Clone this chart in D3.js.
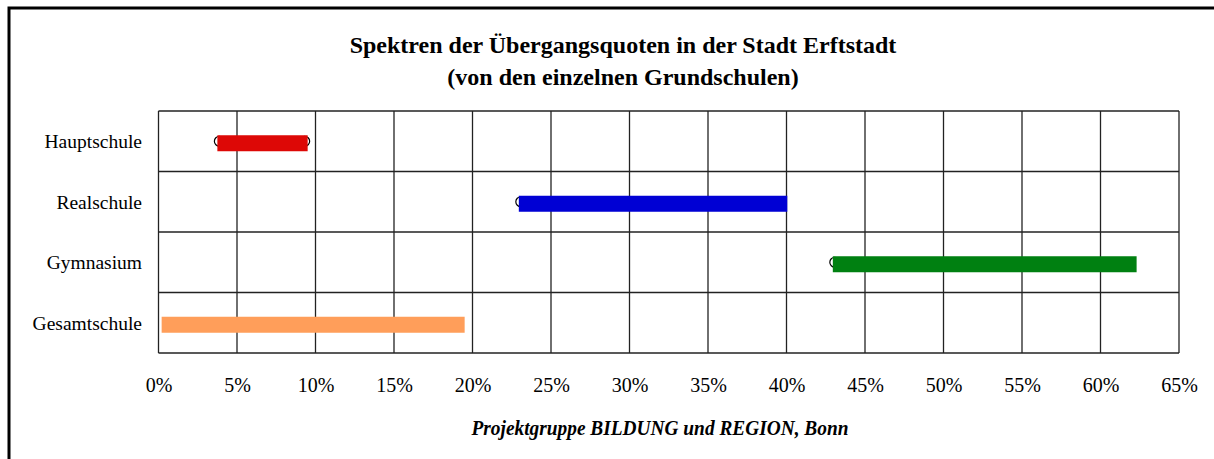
<html>
<head>
  <meta charset="UTF-8">
  <title>Spektren der Übergangsquoten</title>
  <script src="https://d3js.org/d3.v7.min.js"></script>
  <style>
    body { margin: 0; background: #fff; }
    text { font-family: "Liberation Serif", "Times New Roman", serif; fill: #000; }
  </style>
</head>
<body>
  <svg id="chart" width="1214" height="459"></svg>
  <script>
    const schools = ["Hauptschule", "Realschule", "Gymnasium", "Gesamtschule"];
    const minQuote = [3.75, 22.95, 42.95, 0.2];
    const maxQuote = [9.5, 40.05, 62.3, 19.5];
    const colors = ["#dd0806", "#0000d4", "#008011", "#ff9e5a"];
    // which end markers peek out from under the bar
    const minMarker = [true, true, true, false];
    const maxMarker = [true, false, false, false];
    const ticks = [0, 5, 10, 15, 20, 25, 30, 35, 40, 45, 50, 55, 60, 65];

    const svg = d3.select("#chart");

    // outer frame
    svg.append("rect")
        .attr("x", 9).attr("y", 8)
        .attr("width", 1300).attr("height", 500)
        .attr("fill", "none").attr("stroke", "#000").attr("stroke-width", 3);

    const plotLeft = 158.5, plotRight = 1179, plotTop = 111, plotBottom = 353;

    const x = d3.scaleLinear([0, 65], [plotLeft, plotRight]);
    const y = d3.scaleBand(schools, [plotTop, plotBottom]);

    // title
    svg.append("text").attr("x", 623).attr("y", 53)
        .attr("text-anchor", "middle").attr("font-weight", "bold").attr("font-size", 24)
        .text("Spektren der Übergangsquoten in der Stadt Erftstadt");
    svg.append("text").attr("x", 623).attr("y", 85)
        .attr("text-anchor", "middle").attr("font-weight", "bold").attr("font-size", 24)
        .text("(von den einzelnen Grundschulen)");

    // grid
    const grid = svg.append("g");
    grid.selectAll("line.v").data(ticks).join("line")
        .attr("class", "v")
        .attr("x1", d => x(d)).attr("x2", d => x(d))
        .attr("y1", plotTop).attr("y2", plotBottom)
        .attr("stroke", "#222").attr("stroke-width", 1.3);
    grid.selectAll("line.h").data(d3.range(schools.length + 1)).join("line")
        .attr("class", "h")
        .attr("x1", plotLeft).attr("x2", plotRight)
        .attr("y1", i => plotTop + i * y.step()).attr("y2", i => plotTop + i * y.step())
        .attr("stroke", "#222").attr("stroke-width", 1.3);

    // x axis labels
    svg.append("g")
        .attr("transform", `translate(0,${plotBottom})`)
        .call(d3.axisBottom(x).tickValues(ticks).tickSize(0).tickPadding(25).tickFormat(d => d + "%"))
        .call(g => g.select(".domain").remove())
        .selectAll("text")
        .attr("font-family", "Liberation Serif").attr("font-size", 20).attr("fill", "#000");

    // category labels
    svg.append("g").selectAll("text").data(schools).join("text")
        .attr("x", 142)
        .attr("y", d => y(d) + y.bandwidth() / 2 + 7)
        .attr("text-anchor", "end").attr("font-size", 19.5)
        .text(d => d);

    const rows = schools.map((s, i) => ({
        s, lo: minQuote[i], hi: maxQuote[i], c: colors[i], mLo: minMarker[i], mHi: maxMarker[i]
    }));

    // end markers (drawn behind the bars)
    const marks = svg.append("g");
    rows.forEach(r => {
        const cy = y(r.s) + y.bandwidth() / 2;
        if (r.mLo) marks.append("circle").attr("cx", x(r.lo) + 2).attr("cy", cy)
            .attr("r", 5).attr("fill", "#fff").attr("stroke", "#000").attr("stroke-width", 1.2);
        if (r.mHi) marks.append("circle").attr("cx", x(r.hi) - 3).attr("cy", cy)
            .attr("r", 5).attr("fill", "#fff").attr("stroke", "#000").attr("stroke-width", 1.2);
    });

    // range bars
    svg.append("g").selectAll("rect").data(rows).join("rect")
        .attr("x", d => x(d.lo))
        .attr("width", d => x(d.hi) - x(d.lo))
        .attr("y", d => y(d.s) + y.bandwidth() / 2 + 2 - 8)
        .attr("height", 16)
        .attr("fill", d => d.c);

    // footer
    svg.append("text").attr("x", 660).attr("y", 435)
        .attr("text-anchor", "middle").attr("font-weight", "bold").attr("font-style", "italic")
        .attr("font-size", 22).attr("textLength", 377).attr("lengthAdjust", "spacingAndGlyphs")
        .text("Projektgruppe BILDUNG und REGION, Bonn");
  </script>
</body>
</html>
